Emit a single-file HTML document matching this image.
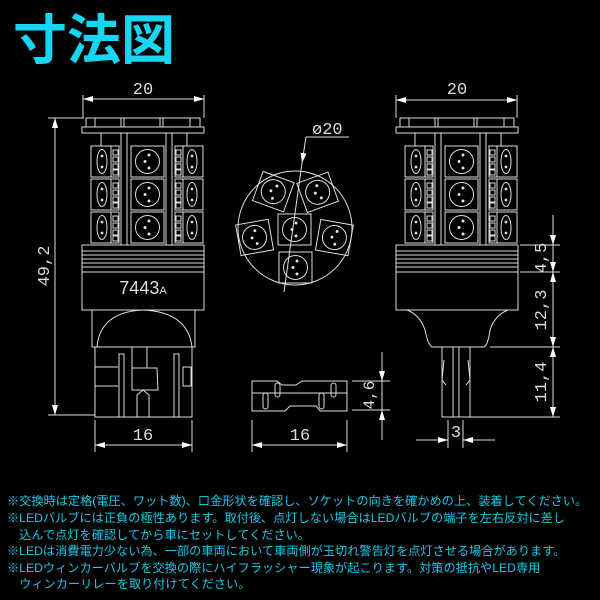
<!DOCTYPE html>
<html><head><meta charset="utf-8"><style>
html,body{margin:0;padding:0;background:#000;width:600px;height:600px;overflow:hidden}
svg{position:absolute;left:0;top:0}
.t{position:absolute;left:7px;color:#16c8e8;font-family:"Liberation Sans","Noto Sans CJK JP",sans-serif;font-size:12.2px;white-space:nowrap;line-height:16.6px}
</style></head><body>
<svg width="600" height="600" viewBox="0 0 600 600" xmlns="http://www.w3.org/2000/svg">
<defs>
<g id="sled">
 <rect x="0" y="0" width="28" height="31" fill="none" stroke="#ddd" stroke-width="1"/>
 <ellipse cx="11" cy="15.5" rx="5" ry="12" fill="none" stroke="#ddd"/>
 <line x1="20" y1="0" x2="20" y2="31" stroke="#ddd"/>
 <rect x="22" y="4" width="5" height="5" fill="none" stroke="#ddd"/>
 <rect x="22" y="11" width="5" height="5" fill="none" stroke="#ddd"/>
 <rect x="22" y="18" width="5" height="5" fill="none" stroke="#ddd"/>
 <rect x="22" y="24" width="5" height="5" fill="none" stroke="#ddd"/>
 <circle cx="11" cy="10" r="0.9" fill="#fff"/><circle cx="11" cy="21" r="0.9" fill="#fff"/>
</g>
<g id="cled">
 <rect x="0" y="0" width="33" height="31" fill="none" stroke="#ddd"/>
 <circle cx="16.5" cy="15.5" r="12" fill="none" stroke="#ddd"/>
 <circle cx="18" cy="9" r="1" fill="#fff"/><circle cx="14" cy="15.5" r="1" fill="#fff"/><circle cx="18" cy="22" r="1" fill="#fff"/>
</g>
<g id="cap">
 <rect x="0" y="0" width="114" height="9" fill="none" stroke="#ddd"/>
 <line x1="9" y1="0" x2="9" y2="9" stroke="#ddd"/><line x1="35" y1="0" x2="35" y2="9" stroke="#ddd"/><line x1="38" y1="0" x2="38" y2="9" stroke="#ddd"/>
 <line x1="74" y1="0" x2="74" y2="9" stroke="#ddd"/><line x1="77" y1="0" x2="77" y2="9" stroke="#ddd"/><line x1="104" y1="0" x2="104" y2="9" stroke="#ddd"/>
 <rect x="-4" y="9" width="122" height="6" fill="none" stroke="#ddd"/>
</g>
<g id="ledarea">
 <line x1="35" y1="15" x2="35" y2="127" stroke="#ddd"/><line x1="41" y1="15" x2="41" y2="127" stroke="#ddd"/>
 <line x1="80" y1="15" x2="80" y2="127" stroke="#ddd"/><line x1="86" y1="15" x2="86" y2="127" stroke="#ddd"/>
 <line x1="15" y1="15" x2="15" y2="28" stroke="#ddd"/><line x1="101" y1="15" x2="101" y2="28" stroke="#ddd"/>
 <use href="#sled" x="5" y="28"/><use href="#sled" x="5" y="61"/><use href="#sled" x="5" y="94"/>
 <use href="#cled" x="45" y="28"/><use href="#cled" x="45" y="61"/><use href="#cled" x="45" y="94"/>
 <g transform="translate(117,0) scale(-1,1)"><use href="#sled" x="0" y="28"/><use href="#sled" x="0" y="61"/><use href="#sled" x="0" y="94"/></g>
 <rect x="-4" y="127" width="122" height="27" fill="none" stroke="#ddd"/>
 <line x1="-4" y1="133" x2="118" y2="133" stroke="#ddd"/><line x1="-4" y1="137" x2="118" y2="137" stroke="#ddd"/>
 <line x1="-4" y1="141" x2="118" y2="141" stroke="#ddd"/><line x1="-4" y1="145" x2="118" y2="145" stroke="#ddd"/>
 <line x1="-4" y1="149" x2="118" y2="149" stroke="#ddd"/>
 <rect x="-4" y="154" width="122" height="38" fill="none" stroke="#ddd"/>
</g>
<marker id="ar" viewBox="0 0 10 6" refX="10" refY="3" markerWidth="10" markerHeight="6" orient="auto-start-reverse" markerUnits="userSpaceOnUse"><path d="M0,0 L10,3 L0,6 z" fill="#fff"/></marker>
</defs>
<text x="13" y="59" font-family="Liberation Sans,Noto Sans CJK JP,sans-serif" font-weight="bold" font-size="54" fill="#16d6f2">寸法図</text>

<g stroke="#ddd" fill="none" font-family="Liberation Mono,monospace">
<g transform="translate(86,118)"><use href="#cap"/><use href="#ledarea"/></g>
<text x="143" y="294" font-size="18" fill="#ddd" stroke="none" text-anchor="middle" font-family="Liberation Sans,sans-serif">7443<tspan font-size="11">A</tspan></text>
<rect x="92" y="310" width="103" height="37"/>
<path d="M97,347 Q100,312 143,310 Q188,312 192,347"/>
<rect x="95" y="347" width="97" height="70"/>
<line x1="95" y1="367" x2="118" y2="367"/><line x1="95" y1="386" x2="118" y2="386"/>
<rect x="119" y="354" width="5" height="63"/><rect x="174" y="354" width="5" height="63"/>
<rect x="183" y="367" width="8" height="19"/>
<path d="M132,347 V368 M132,368 L157,368 L158,390 L132,390 Z M147,347 V368"/>
<path d="M137,417 V395 L143,390 L149,395 V417"/>
<line x1="83" y1="95" x2="83" y2="118"/><line x1="204" y1="95" x2="204" y2="118"/>
<line x1="83" y1="99" x2="204" y2="99" marker-start="url(#ar)" marker-end="url(#ar)"/>
<text x="143" y="94" font-size="17" fill="#ddd" stroke="none" text-anchor="middle">20</text>
<line x1="48" y1="118" x2="84" y2="118"/><line x1="48" y1="415" x2="95" y2="415"/>
<line x1="55" y1="118" x2="55" y2="415" marker-start="url(#ar)" marker-end="url(#ar)"/>
<text transform="translate(49,266) rotate(-90)" font-size="17" fill="#ddd" stroke="none" text-anchor="middle">49,2</text>
<line x1="95" y1="420" x2="95" y2="452"/><line x1="192" y1="420" x2="192" y2="452"/>
<line x1="95" y1="445" x2="192" y2="445" marker-start="url(#ar)" marker-end="url(#ar)"/>
<text x="143" y="440" font-size="17" fill="#ddd" stroke="none" text-anchor="middle">16</text>

<circle cx="295" cy="228" r="57"/>
<g transform="translate(273,191) rotate(20)"><use href="#cled" x="-16" y="-15"/></g>
<g transform="translate(317,192) rotate(-20)"><use href="#cled" x="-16" y="-15"/></g>
<g transform="translate(254,237) rotate(-10)"><use href="#cled" x="-16" y="-15"/></g>
<g transform="translate(334,237) rotate(10)"><use href="#cled" x="-16" y="-15"/></g>
<use href="#cled" x="278" y="214"/>
<use href="#cled" x="279" y="252"/>
<line x1="349" y1="137" x2="306" y2="137"/>
<line x1="306" y1="137" x2="302" y2="163" marker-end="url(#ar)"/>
<line x1="302" y1="163" x2="284" y2="292"/>
<text x="312" y="134" font-size="17" fill="#ddd" stroke="none">ø20</text>

<path d="M252,381 H277 L282,385 H296 L302,381 H347 V411 H320 L316,406 H290 L285,411 H252 Z"/>
<line x1="252" y1="393" x2="347" y2="393"/>
<rect x="275" y="383" width="5" height="14" rx="2.5"/><rect x="331" y="383" width="5" height="14" rx="2.5"/>
<rect x="263" y="393" width="5" height="16" rx="2.5"/><rect x="319" y="393" width="5" height="16" rx="2.5"/>
<line x1="252" y1="420" x2="252" y2="452"/><line x1="347" y1="420" x2="347" y2="452"/>
<line x1="252" y1="445" x2="347" y2="445" marker-start="url(#ar)" marker-end="url(#ar)"/>
<text x="300" y="440" font-size="17" fill="#ddd" stroke="none" text-anchor="middle">16</text>
<line x1="352" y1="381" x2="390" y2="381"/><line x1="352" y1="410" x2="390" y2="410"/>
<line x1="382" y1="352" x2="382" y2="381" marker-end="url(#ar)"/>
<line x1="382" y1="381" x2="382" y2="410"/>
<line x1="382" y1="440" x2="382" y2="410" marker-end="url(#ar)"/>
<text transform="translate(374,395) rotate(-90)" font-size="16" fill="#ddd" stroke="none" text-anchor="middle">4,6</text>

<g transform="translate(400,118)"><use href="#cap"/><use href="#ledarea"/></g>
<path d="M407,310 Q420,315 425,330 Q428,345 432,347 H484 Q488,345 490,330 Q495,315 508,310"/>
<rect x="442" y="347" width="28" height="70"/>
<line x1="453" y1="347" x2="453" y2="417"/><line x1="459" y1="347" x2="459" y2="417"/>
<path d="M444,360 L442,380 L446,385 M468,360 L470,380 L466,385"/>
<line x1="396" y1="95" x2="396" y2="118"/><line x1="517" y1="95" x2="517" y2="118"/>
<line x1="396" y1="100" x2="517" y2="100" marker-start="url(#ar)" marker-end="url(#ar)"/>
<text x="457" y="94" font-size="17" fill="#ddd" stroke="none" text-anchor="middle">20</text>
<line x1="520" y1="245" x2="560" y2="245"/><line x1="520" y1="272" x2="560" y2="272"/>
<line x1="490" y1="347" x2="560" y2="347"/><line x1="470" y1="417" x2="560" y2="417"/>
<line x1="553" y1="215" x2="553" y2="245" marker-end="url(#ar)"/>
<line x1="553" y1="245" x2="553" y2="272" marker-end="url(#ar)"/>
<line x1="553" y1="272" x2="553" y2="347" marker-start="url(#ar)" marker-end="url(#ar)"/>
<line x1="553" y1="347" x2="553" y2="417" marker-start="url(#ar)" marker-end="url(#ar)"/>
<text transform="translate(546,258) rotate(-90)" font-size="17" fill="#ddd" stroke="none" text-anchor="middle">4,5</text>
<text transform="translate(546,310) rotate(-90)" font-size="17" fill="#ddd" stroke="none" text-anchor="middle">12,3</text>
<text transform="translate(546,382) rotate(-90)" font-size="17" fill="#ddd" stroke="none" text-anchor="middle">11,4</text>
<line x1="448" y1="420" x2="448" y2="448"/><line x1="463" y1="420" x2="463" y2="448"/>
<line x1="416" y1="440" x2="448" y2="440" marker-end="url(#ar)"/>
<line x1="495" y1="440" x2="463" y2="440" marker-end="url(#ar)"/>
<text x="456" y="437" font-size="17" fill="#ddd" stroke="none" text-anchor="middle">3</text>
</g>
</svg>
<div class="t" style="top:493px">※交換時は定格(電圧、ワット数)、口金形状を確認し、ソケットの向きを確かめの上、装着してください。</div>
<div class="t" style="top:510px">※LEDバルブには正負の極性あります。取付後、点灯しない場合はLEDバルブの端子を左右反対に差し</div>
<div class="t" style="top:527px">　込んで点灯を確認してから車にセットしてください。</div>
<div class="t" style="top:543px">※LEDは消費電力少ない為、一部の車両において車両側が玉切れ警告灯を点灯させる場合があります。</div>
<div class="t" style="top:560px">※LEDウィンカーバルブを交換の際にハイフラッシャー現象が起こります。対策の抵抗やLED専用</div>
<div class="t" style="top:576px">　ウィンカーリレーを取り付けてください。</div>
</body></html>
